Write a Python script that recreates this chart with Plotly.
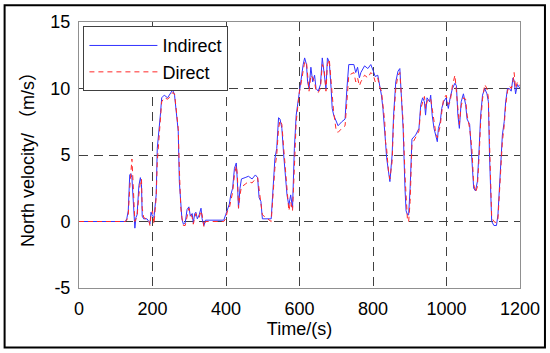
import plotly.graph_objects as go

time_s = [0, 126, 130, 134, 138, 141, 144, 147, 150, 152,
          155, 158, 163, 167, 170, 172, 176, 185, 190, 193,
          196, 200, 204, 207, 210, 213, 217, 222, 225, 232,
          241, 249, 255, 260, 265, 270, 273, 277, 280, 284,
          289, 294, 299, 303, 308, 311, 315, 318, 322, 327,
          332, 335, 340, 344, 356, 394, 399, 404, 409, 413,
          418, 423, 428, 431, 434, 438, 442, 452, 461, 471,
          480, 486, 490, 495, 499, 523, 528, 533, 538, 543,
          547, 552, 557, 562, 566, 571, 576, 581, 586, 591,
          596, 600, 605, 610, 614, 619, 622, 626, 631, 636,
          641, 645, 651, 657, 662, 667, 672, 676, 681, 686,
          689, 693, 700, 705, 715, 724, 729, 734, 748, 753,
          758, 763, 767, 777, 786, 794, 801, 806, 813, 817,
          823, 827, 832, 834, 837, 842, 846, 852, 856, 862,
          868, 873, 877, 882, 887, 890, 894, 897, 901, 906,
          916, 925, 930, 935, 940, 943, 947, 954, 957, 961,
          966, 970, 975, 978, 983, 987, 992, 999, 1005, 1010,
          1016, 1023, 1027, 1031, 1035, 1040, 1046, 1052, 1056, 1063,
          1069, 1074, 1079, 1084, 1088, 1093, 1098, 1104, 1110, 1114,
          1117, 1120, 1123, 1129, 1136, 1140, 1143, 1147, 1152, 1157,
          1161, 1166, 1171, 1176, 1181, 1184, 1188, 1193, 1200]

indirect_v = [0, 0, 0.2, 0.8, 3.5, 3.6, 3.3, 2.0, 0.2, -0.5,
              0.3, 0.5, 2.7, 3.3, 2.8, 0.4, 0.2, 0.2, 0.0, -0.2,
              0.7, 0.4, 0.3, 1.5, 2.0, 5.5, 6.5, 8.2, 9.3, 9.5,
              9.3, 9.6, 9.9, 9.5, 8.0, 6.8, 3.0, 0.8, 0.2, -0.2,
              -0.1, 0.9, 1.1, 0.4, 0.6, -0.1, 0.6, 0.7, 0.2, 0.5,
              1.0, 0.2, -0.3, 0.1, 0.1, 0.1, 0.5, 1.0, 1.3, 2.0,
              2.5, 4.0, 4.4, 3.0, 1.0, 2.5, 3.2, 3.3, 3.4, 3.2,
              3.5, 3.3, 1.8, 1.5, 0.2, 0.2, 3.0, 4.7, 5.5, 7.8,
              7.7, 7.0, 5.0, 3.5, 2.0, 1.2, 2.0, 1.0, 5.5, 8.0,
              9.0, 10.0, 11.0, 11.8, 12.3, 11.8, 10.5, 10.0, 11.6, 10.5,
              11.0, 10.0, 9.8, 10.3, 12.3, 11.0, 10.0, 12.3, 12.0, 10.0,
              8.5, 8.0, 7.5, 7.2, 7.5, 7.7, 10.0, 11.8, 11.8, 11.2,
              11.6, 10.8, 11.2, 11.7, 11.5, 11.8, 11.3, 10.9, 11.0, 10.5,
              9.5, 8.5, 7.0, 6.0, 4.8, 3.5, 3.0, 5.0, 8.0, 10.5,
              11.3, 11.5, 9.0, 7.0, 2.5, 0.8, 0.5, 0.5, 2.5, 6.2,
              6.5, 7.0, 8.8, 9.3, 9.0, 8.0, 9.3, 9.0, 9.5, 8.0,
              7.0, 6.5, 6.0, 7.0, 7.5, 8.5, 9.0, 9.3, 8.5, 9.3,
              10.0, 10.4, 10.2, 8.0, 7.0, 9.0, 9.6, 8.8, 7.7, 7.3,
              5.0, 2.5, 2.3, 3.0, 5.0, 8.0, 9.5, 10.0, 9.6, 9.0,
              5.0, 2.0, 0.0, -0.3, -0.3, 0.5, 2.0, 4.0, 6.5, 7.5,
              9.0, 10.0, 10.0, 9.8, 10.8, 10.6, 9.6, 10.3, 10.0]

direct_v = [0, 0, 0.1, 0.5, 2.5, 3.5, 4.7, 3.0, 0.5, 0.0,
            0.2, 0.4, 2.0, 3.0, 3.2, 1.0, 0.3, 0.2, 0.1, -0.3,
            0.5, 0.8, -0.2, 0.8, 1.8, 4.5, 6.0, 7.5, 9.0, 9.3,
            9.2, 9.4, 9.7, 9.6, 8.5, 7.0, 4.0, 1.0, 0.3, -0.3,
            -0.3, 0.5, 1.0, 0.6, 0.3, -0.2, 0.4, 0.6, 0.3, 0.3,
            0.8, 0.5, -0.4, 0.0, 0.0, 0.0, 0.2, 0.8, 1.0, 1.6,
            2.2, 3.5, 4.2, 3.5, 1.0, 2.0, 2.6, 2.8, 3.0, 2.9,
            3.2, 3.3, 2.5, 1.3, 0.5, 0.0, 2.0, 4.0, 5.0, 7.0,
            7.6, 7.3, 5.5, 3.8, 2.5, 0.8, 1.5, 0.8, 4.0, 7.5,
            8.8, 9.8, 10.5, 11.5, 12.0, 12.0, 11.0, 9.8, 11.0, 10.8,
            10.5, 9.8, 9.7, 10.0, 11.8, 11.5, 9.8, 11.8, 12.2, 10.5,
            9.0, 8.2, 6.8, 6.7, 7.0, 7.2, 9.0, 11.0, 11.2, 10.5,
            10.8, 10.2, 10.5, 11.0, 10.8, 11.2, 11.0, 10.5, 10.8, 10.2,
            9.8, 8.8, 7.5, 6.0, 5.5, 3.8, 3.2, 4.5, 7.5, 10.0,
            11.0, 11.2, 9.5, 7.5, 3.5, 1.5, 0.0, 0.0, 1.5, 5.8,
            6.3, 6.8, 8.5, 9.0, 9.4, 8.5, 9.0, 9.3, 9.2, 8.5,
            7.3, 6.8, 6.3, 6.7, 7.2, 8.2, 9.2, 9.5, 8.8, 9.0,
            10.2, 11.0, 10.0, 8.5, 7.3, 8.7, 9.3, 9.2, 8.0, 7.0,
            5.5, 2.8, 2.2, 2.6, 4.5, 7.5, 9.2, 10.3, 10.0, 9.3,
            6.0, 2.5, 0.3, 0.0, -0.1, 0.2, 1.5, 3.5, 6.0, 7.2,
            8.7, 9.8, 10.2, 10.0, 10.5, 11.2, 10.0, 10.5, 10.2]

x_ticks = [0, 200, 400, 600, 800, 1000, 1200]
y_ticks = [-5, 0, 5, 10, 15]

assert len(time_s) == len(indirect_v) == len(direct_v)

FONT = "Liberation Sans, Arial, Noto Sans CJK SC, sans-serif"

fig = go.Figure()
fig.add_trace(go.Scatter(x=time_s, y=indirect_v, mode="lines", name="Indirect",
                         line=dict(color="rgb(50,50,255)", width=1)))
fig.add_trace(go.Scatter(x=time_s, y=direct_v, mode="lines", name="Direct",
                         line=dict(color="rgb(255,40,40)", width=1, dash="5px,4px")))

axis_common = dict(showline=True, mirror=True, linecolor="#909090", linewidth=1,
                   showgrid=True, gridcolor="#404040", gridwidth=1, griddash="9px,6px",
                   zeroline=False, automargin=False,
                   tickfont=dict(family=FONT, size=18, color="black"))

fig.update_xaxes(range=[0, 1200], tickvals=x_ticks, ticktext=[str(v) for v in x_ticks],
                 ticks="outside", ticklen=4, tickcolor="rgba(0,0,0,0)",
                 title=dict(text="Time/(s)", font=dict(family=FONT, size=18, color="black"), standoff=2),
                 **axis_common)
fig.update_yaxes(range=[-5, 15], tickvals=y_ticks, ticktext=[str(v) for v in y_ticks],
                 ticks="outside", ticklen=4, tickcolor="rgba(0,0,0,0)",
                 title=dict(text="North velocity/ （m/s）", font=dict(family=FONT, size=18, color="black"), standoff=11),
                 **axis_common)

fig.update_layout(
    width=550, height=353,
    margin=dict(l=79, r=30, t=22, b=65, autoexpand=False),
    plot_bgcolor="white", paper_bgcolor="white",
    font=dict(family=FONT, size=18, color="black"),
    legend=dict(x=0.01, y=0.984, xanchor="left", yanchor="top",
                bgcolor="white", bordercolor="#404040", borderwidth=1,
                font=dict(family=FONT, size=18, color="black"),
                itemwidth=68, tracegroupgap=0),
    shapes=[dict(type="rect", xref="paper", yref="paper",
                 x0=-0.1687, x1=1.0566, y0=-0.224, y1=1.0626,
                 line=dict(color="black", width=2), fillcolor="rgba(0,0,0,0)", layer="above")],
)

fig.write_html("out.html", config={"displayModeBar": False},
               post_script="document.body.style.margin='0';document.body.style.padding='0';document.body.style.overflow='hidden';")
